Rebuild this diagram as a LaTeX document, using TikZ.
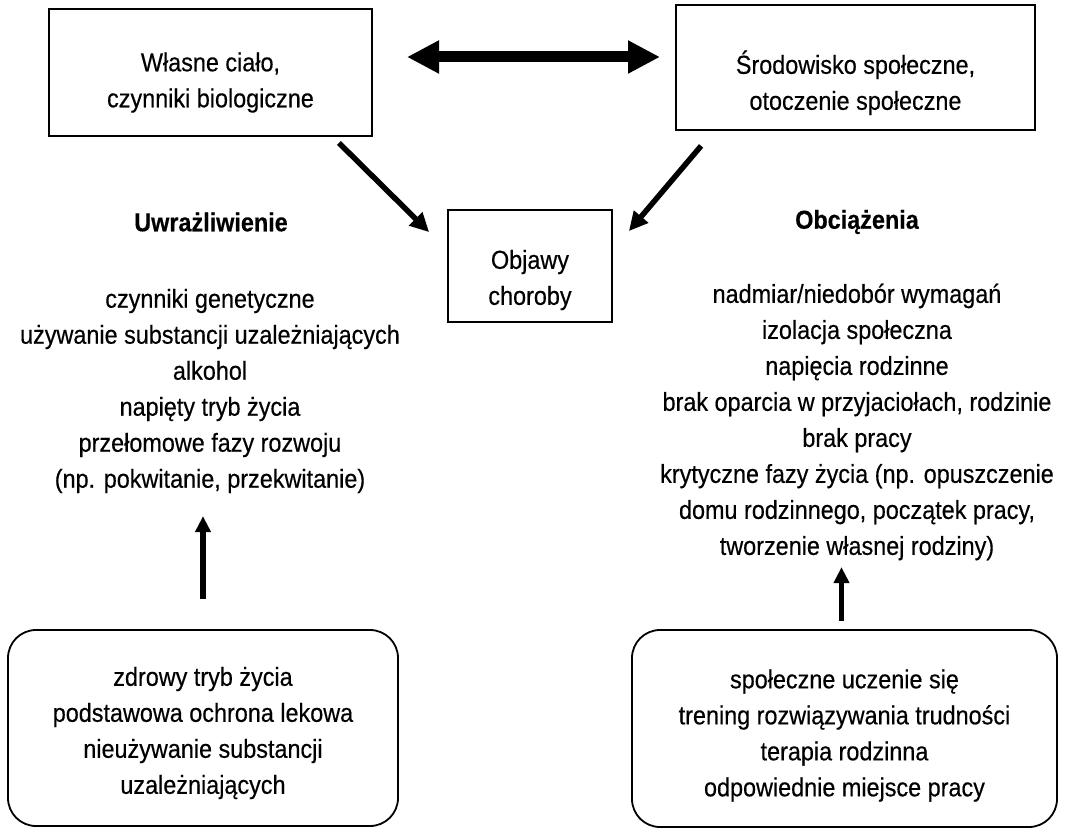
\documentclass[tikz,border=0pt]{standalone}
\usepackage{fontspec}
\setmainfont{Liberation Sans}[FakeStretch=0.9,FakeBold=0.4]
\usetikzlibrary{arrows.meta,calc}
\begin{document}
\begin{tikzpicture}[x=1pt,y=-1pt,
  every node/.style={font=\fontsize{26}{36}\selectfont, align=center},
  sqbox/.style={draw, line width=1.8pt, inner sep=0pt},
  rbox/.style={draw, line width=1.8pt, rounded corners=28pt, inner sep=0pt},
  hdr/.style={font=\fontsize{26}{36}\selectfont\bfseries},
  diag/.style={line width=5.5pt, -{Triangle[length=19pt,width=18pt]}},
  vert/.style={line width=5.5pt, -{Triangle[length=16pt,width=15pt]}},
  dbl/.style={line width=11pt, {Triangle[length=32pt,width=31pt]}-{Triangle[length=32pt,width=31pt]}}
]
\useasboundingbox (0,0) rectangle (1065,829);

\node[sqbox, minimum width=323pt, minimum height=127pt] (b1) at (210.5,72.5)
  {\rule{0pt}{39pt}Własne ciało,\\czynniki biologiczne};
\node[sqbox, minimum width=359pt, minimum height=125pt] (b2) at (855.5,67.5)
  {\rule{0pt}{54pt}Środowisko społeczne,\\otoczenie społeczne};
\node[sqbox, minimum width=164pt, minimum height=112pt] (ob) at (530,266)
  {\rule{0pt}{47pt}Objawy\\choroby};

\node[hdr] (h1) at (211,222) {Uwrażliwienie};
\node (l1) at (210,391) {czynniki genetyczne\\używanie substancji uzależniających\\alkohol\\napięty tryb życia\\przełomowe fazy rozwoju\\(np. pokwitanie, przekwitanie)};

\node[hdr] (h2) at (857,222) {Obciążenia};
\node (l2) at (857,422) {nadmiar/niedobór wymagań\\izolacja społeczna\\napięcia rodzinne\\brak oparcia w przyjaciołach, rodzinie\\brak pracy\\krytyczne fazy życia (np. opuszczenie\\domu rodzinnego, początek pracy,\\tworzenie własnej rodziny)};

\node[rbox, minimum width=390pt, minimum height=196pt] (r1) at (203,728)
  {\rule{0pt}{29pt}zdrowy tryb życia\\podstawowa ochrona lekowa\\nieużywanie substancji\\uzależniających};
\node[rbox, minimum width=425pt, minimum height=197pt] (r2) at (844.5,728.5)
  {\rule{0pt}{33pt}społeczne uczenie się\\trening rozwiązywania trudności\\terapia rodzinna\\odpowiednie miejsce pracy};

\coordinate (dl) at (407,57);
\coordinate (dr) at (660,57);
\draw[dbl] (dl) -- (dr);

\draw[diag] ([xshift=-34pt,yshift=-6pt]b1.south east) -- ([xshift=-18pt,yshift=-23pt]ob.north west);
\draw[diag] ([xshift=26pt,yshift=-15pt]b2.south west) -- ([xshift=16pt,yshift=-22pt]ob.north east);

\draw[vert] ([yshift=30pt]r1.north) -- ([yshift=113pt]r1.north);
\draw[vert] ([xshift=-3pt,yshift=8pt]r2.north) -- ([xshift=-3pt,yshift=62pt]r2.north);
\end{tikzpicture}
\end{document}
